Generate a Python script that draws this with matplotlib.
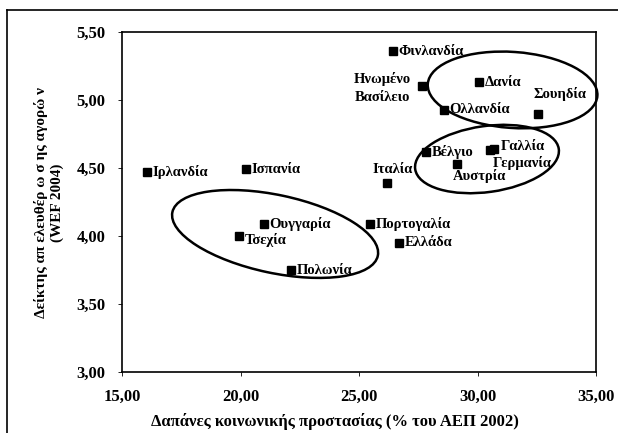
import matplotlib
matplotlib.use("Agg")
import matplotlib.pyplot as plt
from matplotlib.patches import Ellipse
from matplotlib.lines import Line2D
from matplotlib.transforms import ScaledTranslation, Affine2D
from matplotlib.ticker import FuncFormatter, MultipleLocator

plt.rcParams['font.family'] = ['Liberation Serif', 'DejaVu Serif']
plt.rcParams['font.weight'] = 'bold'

countries = ['Ιρλανδία', 'Ισπανία', 'Ουγγαρία', 'Τσεχία', 'Πολωνία', 'Πορτογαλία',
             'Ελλάδα', 'Ιταλία', 'Φινλανδία', 'Ηνωμένο\nΒασίλειο', 'Δανία', 'Ολλανδία',
             'Σουηδία', 'Βέλγιο', 'Γαλλία', 'Γερμανία', 'Αυστρία']
spending = [16.06, 20.25, 20.98, 19.95, 22.14, 25.47,
            26.69, 26.20, 26.43, 27.66, 30.08, 28.57,
            32.54, 27.84, 30.68, 30.52, 29.15]
liberalization = [4.47, 4.49, 4.09, 4.00, 3.75, 4.09,
                  3.95, 4.39, 5.36, 5.10, 5.13, 4.93,
                  4.90, 4.62, 4.64, 4.63, 4.53]

# label offsets in points (dx, dy) and alignment
label_style = {
    'Ιταλία': (4, 10, 'center', 'center'),
    'Ηνωμένο\nΒασίλειο': (-8, -1, 'right', 'center'),
    'Σουηδία': (-3, 14, 'left', 'center'),
    'Γαλλία': (5, 1.5, 'left', 'center'),
    'Γερμανία': (2, -9, 'left', 'center'),
    'Αυστρία': (-3, -9, 'left', 'center'),
    'Τσεχία': (4, -3, 'left', 'center'),
}

fig = plt.figure(figsize=(6.18, 4.33), dpi=100)
ax = fig.add_axes([122/618, 1-372/433, 474/618, 340/433])

ax.plot(spending, liberalization, 's', color='black', markersize=6.3, zorder=3)

for name, x, y in zip(countries, spending, liberalization):
    dx, dy, ha, va = label_style.get(name, (4, 0, 'left', 'center'))
    ax.annotate(name, (x, y), xytext=(dx, dy), textcoords='offset points',
                ha=ha, va=va, fontsize=10.5, fontweight='bold',
                multialignment='center', linespacing=1.45, zorder=4)

# cluster ellipses: centre in data units, size in pixels, angle in degrees
ellipses = [
    ((21.46, 4.015), 210, 78, -12),
    ((31.48, 5.074), 170, 76, -4),
    ((30.40, 4.566), 145, 66, 8),
]
for (cx, cy), w, h, ang in ellipses:
    tr = Affine2D().scale(1/100.0) + fig.dpi_scale_trans + ScaledTranslation(cx, cy, ax.transData)
    e = Ellipse((0, 0), w, h, angle=ang, fill=False, edgecolor='black', lw=1.8,
                transform=tr, zorder=2, clip_on=False)
    ax.add_patch(e)

ax.set_xlim(15, 35)
ax.set_ylim(3, 5.5)
ax.xaxis.set_major_locator(MultipleLocator(5))
ax.yaxis.set_major_locator(MultipleLocator(0.5))
fmt = FuncFormatter(lambda v, p: f"{v:.2f}".replace('.', ','))
ax.xaxis.set_major_formatter(fmt)
ax.yaxis.set_major_formatter(fmt)
ax.tick_params(axis='both', direction='out', length=3, width=0.6, labelsize=12, colors='black')
ax.tick_params(axis='x', pad=9)
ax.tick_params(axis='y', pad=9)
for lab in ax.get_xticklabels() + ax.get_yticklabels():
    lab.set_fontweight('bold')
for s in ax.spines.values():
    s.set_linewidth(1.2)

fig.text(335/618, 1-422/433, 'Δαπάνες κοινωνικής προστασίας (% του ΑΕΠ 2002)',
         ha='center', va='center', fontsize=12, fontweight='bold')
fig.text(49/618, 1-203/433, 'Δείκτης απ ελευθέρ ω σ ης αγορώ ν\n(WEF 2004)',
         ha='center', va='center', rotation=90, fontsize=11, fontweight='bold',
         multialignment='center', linespacing=1.3)

# outer frame (left and top edges)
fig.add_artist(Line2D([7/618, 7/618], [0, 1-10/433], transform=fig.transFigure, color='black', lw=1.2))
fig.add_artist(Line2D([7/618, 1], [1-10/433, 1-10/433], transform=fig.transFigure, color='black', lw=1.2))

fig.savefig('out.png', dpi=100)
